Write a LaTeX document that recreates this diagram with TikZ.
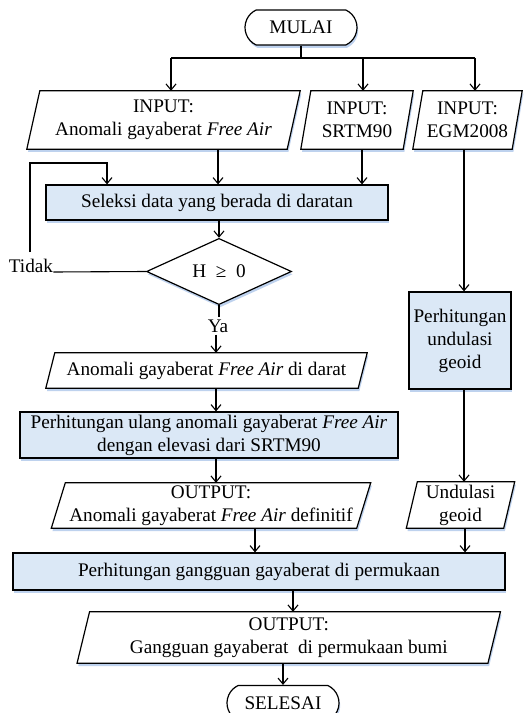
\documentclass[tikz,border=0pt]{standalone}
\usepackage{fontspec}
\setmainfont{Liberation Serif}
\usetikzlibrary{shapes.geometric,shapes.misc,arrows.meta,shadows,backgrounds,calc}
\definecolor{procblue}{RGB}{219,232,246}
\definecolor{shblue}{RGB}{190,210,238}
\newcommand{\fsz}{\fontsize{19.3}{23}\selectfont}
\tikzset{
  base/.style={font=\fsz, align=center, inner sep=0pt, text=black},
  sh/.style={drop shadow={shadow xshift=1.2bp, shadow yshift=-2.8bp, fill=shblue, opacity=1}},
  term/.style={base, rounded rectangle, rounded rectangle arc length=130, draw, line width=1.2bp, fill=white, sh, minimum width=112bp, minimum height=35bp},
  proc/.style={base, draw, line width=1.2bp, fill=procblue, sh},
  iobox/.style={base},
  iopath/.style={draw, line width=1.2bp, fill=white, sh},
  dec/.style={base, diamond, draw, line width=1.2bp, fill=white, sh, minimum width=145bp, minimum height=57bp},
  ln/.style={line width=1.1bp},
  arr/.style={line width=1.1bp, -{Straight Barb[length=6bp,width=10bp]}}
}
\newcommand{\mkpara}[7]{%
  \node[iobox, minimum width=#4bp, minimum height=#5bp] (#1) at (#2,#3) {#7};
  \begin{scope}[on background layer]
    \draw[iopath] ([xshift=0.5*#6bp]#1.north west) -- ([xshift=0.5*#6bp]#1.north east)
      -- ([xshift=-0.5*#6bp]#1.south east) -- ([xshift=-0.5*#6bp]#1.south west) -- cycle;
  \end{scope}}
\begin{document}
\begin{tikzpicture}[x=1bp,y=-1bp]
\useasboundingbox (0,0) rectangle (530,713);
% nodes
\node[term] (mulai) at (301,27.5) {MULAI};
\mkpara{in1}{163.5}{120}{260}{58}{13}{INPUT:\\Anomali gayaberat \textit{Free Air}}
\mkpara{in2}{357}{120}{102}{58}{10}{INPUT:\\SRTM90}
\mkpara{in3}{467.5}{120}{99}{58}{10}{INPUT:\\EGM2008}
\node[proc, minimum width=342bp, minimum height=35bp] (sel) at (217,202.5) {Seleksi data yang berada di daratan};
\node[dec] (dia) at (219,271.5) {H\ \ ≥\ \ 0};
\node[base, anchor=base] (tidak) at (31,272) {Tidak};
\node[base, inner sep=2bp] (ya) at (218,326) {Ya};
\mkpara{darat}{206.5}{370.5}{312}{35}{9}{Anomali gayaberat \textit{Free Air} di darat}
\node[proc, minimum width=378bp, minimum height=46bp] (ulang) at (209,435) {Perhitungan ulang anomali gayaberat \textit{Free Air}\\dengan elevasi dari SRTM90};
\mkpara{out1}{211}{505.5}{305}{45}{14}{OUTPUT:\\Anomali gayaberat \textit{Free Air} definitif}
\node[proc, minimum width=102bp, minimum height=97bp] (und) at (460,340.5) {Perhitungan\\undulasi\\geoid};
\mkpara{ug}{460.5}{505}{97}{46}{11}{Undulasi\\geoid}
\node[proc, minimum width=492bp, minimum height=37bp] (gang) at (259,571.5) {Perhitungan gangguan gayaberat di permukaan};
\mkpara{out2}{288.75}{637.5}{410.5}{51}{12.5}{OUTPUT:\\Gangguan gayaberat\ \ di permukaan bumi}
\node[term] (selesai) at (283,703) {SELESAI};
% coordinates
\coordinate (j) at (301,58);
\coordinate (b1) at (171,58);
\coordinate (b2) at (363,58);
\coordinate (b3) at (475,58);
\coordinate (x1) at (218,0);
\coordinate (x2) at (362,0);
\coordinate (rc) at (464,0);
\coordinate (rc2) at (465,0);
\coordinate (x3) at (216,0);
\coordinate (x4) at (255,0);
\coordinate (x5) at (293,0);
\coordinate (x6) at (283,0);
\coordinate (fbA) at (30,252);
\coordinate (fbB) at (107,163);
% connectors
\draw[ln] (mulai.south) -- (j);
\draw[ln] (b1) -- (b3);
\draw[arr] (b1) -- (b1 |- in1.north);
\draw[arr] (b2) -- (b2 |- in2.north);
\draw[arr] (b3) -- (b3 |- in3.north);
\draw[arr] (in1.south -| x1) -- (sel.north -| x1);
\draw[arr] (in2.south -| x2) -- (sel.north -| x2);
\draw[arr] (fbA) |- (fbB) -- (sel.north -| fbB);
\draw[ln] (tidak.base east) -- (dia.west);
\draw[arr] (sel.south -| dia.north) -- (dia.north);
\draw[ln] (dia.south) -- (ya.north -| dia.south);
\draw[arr] (ya.south -| x3) -- (darat.north -| x3);
\draw[arr] (darat.south -| x3) -- (ulang.north -| x3);
\draw[arr] (ulang.south -| x3) -- (out1.north -| x3);
\draw[arr] (out1.south -| x4) -- (gang.north -| x4);
\draw[arr] (gang.south -| x5) -- (out2.north -| x5);
\draw[arr] (out2.south -| x6) -- (selesai.north -| x6);
\draw[arr] (in3.south -| rc) -- (und.north -| rc);
\draw[arr] (und.south -| rc) -- (ug.north -| rc);
\draw[arr] (ug.south -| rc2) -- (gang.north -| rc2);
\end{tikzpicture}
\end{document}
